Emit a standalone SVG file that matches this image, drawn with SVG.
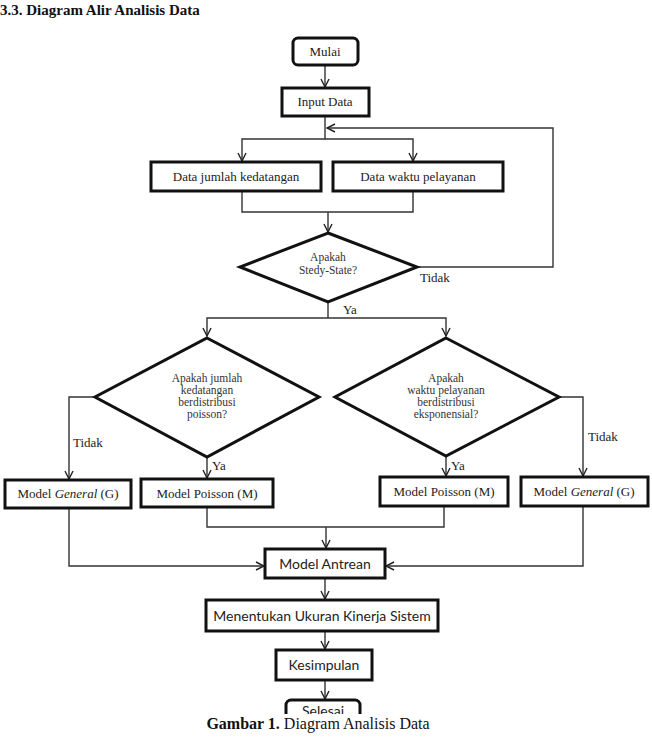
<svg xmlns="http://www.w3.org/2000/svg" width="652" height="745" viewBox="0 0 652 745">
<style>
.box{fill:#fff;stroke:#111;stroke-width:3}
.dia{fill:#fff;stroke:#111;stroke-width:3;stroke-linejoin:miter}
.t{font-family:"Liberation Serif","Times New Roman",Times,serif;font-size:13px;fill:#222;text-anchor:middle}
.td{font-family:"Liberation Serif","Times New Roman",Times,serif;font-size:11.5px;fill:#333;text-anchor:middle}
.s{font-family:Lato,"Noto Sans",sans-serif;font-size:14px;fill:#222;text-anchor:middle}
.lbl{font-family:"Liberation Serif","Times New Roman",Times,serif;font-size:13px;fill:#222}
.c{fill:none;stroke:#333;stroke-width:1.4}
</style>
<defs>
<marker id="arr" viewBox="0 0 10 10" refX="9" refY="5" markerWidth="10" markerHeight="10" orient="auto" markerUnits="userSpaceOnUse">
<path d="M1,1 L9,5 L1,9" fill="none" stroke="#222" stroke-width="1.4"/>
</marker>
<clipPath id="cut"><rect x="270" y="690" width="110" height="24"/></clipPath>
</defs>
<rect width="652" height="745" fill="#fff"/>
<text x="0" y="15" font-family="'Liberation Serif','Times New Roman',Times,serif" font-size="15" font-weight="bold" fill="#111">3.3.  Diagram Alir Analisis Data</text>

<g id="connectors">
<path class="c" d="M325,65 V87" marker-end="url(#arr)"/>
<path class="c" d="M325,116 V139 H242 V161" marker-end="url(#arr)"/>
<path class="c" d="M325,139 H413 V161" marker-end="url(#arr)"/>
<path class="c" d="M417,267 H553 V128 H327" marker-end="url(#arr)"/>
<path class="c" d="M242,191 V212 H413 V191"/>
<path class="c" d="M328,212 V232" marker-end="url(#arr)"/>
<path class="c" d="M328,302 V318"/>
<path class="c" d="M328,318 H207 V336" marker-end="url(#arr)"/>
<path class="c" d="M328,318 H446 V336" marker-end="url(#arr)"/>
<path class="c" d="M95,397 H69 V479" marker-end="url(#arr)"/>
<path class="c" d="M207,457 V478" marker-end="url(#arr)"/>
<path class="c" d="M559,397 H583 V476" marker-end="url(#arr)"/>
<path class="c" d="M446,456 V476" marker-end="url(#arr)"/>
<path class="c" d="M207,507 V527 H444 V506"/>
<path class="c" d="M326,527 V548" marker-end="url(#arr)"/>
<path class="c" d="M69,508 V566 H264" marker-end="url(#arr)"/>
<path class="c" d="M583,506 V566 H386" marker-end="url(#arr)"/>
<path class="c" d="M325,578 V599" marker-end="url(#arr)"/>
<path class="c" d="M325,631 V649" marker-end="url(#arr)"/>
<path class="c" d="M325,680 V699" marker-end="url(#arr)"/>
<text class="lbl" x="420" y="282">Tidak</text>
<text class="lbl" x="343" y="314">Ya</text>
<text class="lbl" x="73" y="447">Tidak</text>
<text class="lbl" x="212" y="470">Ya</text>
<text class="lbl" x="588" y="441">Tidak</text>
<text class="lbl" x="451" y="470">Ya</text>
</g>

<g id="mulai">
<rect class="box" x="293" y="38" width="65" height="27" rx="5"/>
<text class="t" x="325" y="56">Mulai</text>
</g>
<g id="input-data">
<rect class="box" x="282" y="88" width="87" height="28"/>
<text class="t" x="325" y="106">Input Data</text>
</g>
<g id="data-kedatangan">
<rect class="box" x="151" y="162" width="170" height="29"/>
<text class="t" x="236" y="181">Data jumlah kedatangan</text>
</g>
<g id="data-pelayanan">
<rect class="box" x="333" y="162" width="170" height="29"/>
<text class="t" x="418" y="181">Data waktu pelayanan</text>
</g>
<g id="steady-state">
<polygon class="dia" points="328,233 417,267 328,302 240,267"/>
<text class="td" x="328" y="261">Apakah</text>
<text class="td" x="328" y="274">Stedy-State?</text>
</g>
<g id="cek-poisson">
<polygon class="dia" points="207,338 319,397 207,457 95,397"/>
<text class="td" x="207" y="382">Apakah jumlah</text>
<text class="td" x="207" y="394">kedatangan</text>
<text class="td" x="207" y="406">berdistribusi</text>
<text class="td" x="207" y="418">poisson?</text>
</g>
<g id="cek-eksponensial">
<polygon class="dia" points="446,338 559,397 446,456 335,397"/>
<text class="td" x="446" y="382">Apakah</text>
<text class="td" x="446" y="394">waktu pelayanan</text>
<text class="td" x="446" y="406">berdistribusi</text>
<text class="td" x="446" y="418">eksponensial?</text>
</g>
<g id="model-general-kiri">
<rect class="box" x="5" y="480" width="126" height="28"/>
<text class="t" x="68" y="498">Model <tspan font-style="italic">General</tspan> (G)</text>
</g>
<g id="model-poisson-kiri">
<rect class="box" x="141" y="479" width="132" height="28"/>
<text class="t" x="207" y="498">Model Poisson (M)</text>
</g>
<g id="model-poisson-kanan">
<rect class="box" x="380" y="477" width="128" height="29"/>
<text class="t" x="444" y="496">Model Poisson (M)</text>
</g>
<g id="model-general-kanan">
<rect class="box" x="521" y="477" width="127" height="29"/>
<text class="t" x="584" y="496">Model <tspan font-style="italic">General</tspan> (G)</text>
</g>
<g id="model-antrean">
<rect class="box" x="265" y="549" width="120" height="29"/>
<text class="s" x="325" y="569">Model Antrean</text>
</g>
<g id="ukuran-kinerja">
<rect class="box" x="206" y="600" width="232" height="31"/>
<text class="s" x="322" y="621">Menentukan Ukuran Kinerja Sistem</text>
</g>
<g id="kesimpulan">
<rect class="box" x="276" y="650" width="96" height="30"/>
<text class="s" x="324" y="670">Kesimpulan</text>
</g>
<g id="selesai" clip-path="url(#cut)">
<rect class="box" x="286" y="700" width="74" height="28" rx="5"/>
<text class="s" x="323" y="716" font-size="13">Selesai</text>
</g>
<g id="caption">
<text x="318" y="729" text-anchor="middle" font-family="'Liberation Serif','Times New Roman',Times,serif" font-size="16" fill="#111"><tspan font-weight="bold">Gambar 1.</tspan> Diagram Analisis Data</text>
</g>
</svg>
